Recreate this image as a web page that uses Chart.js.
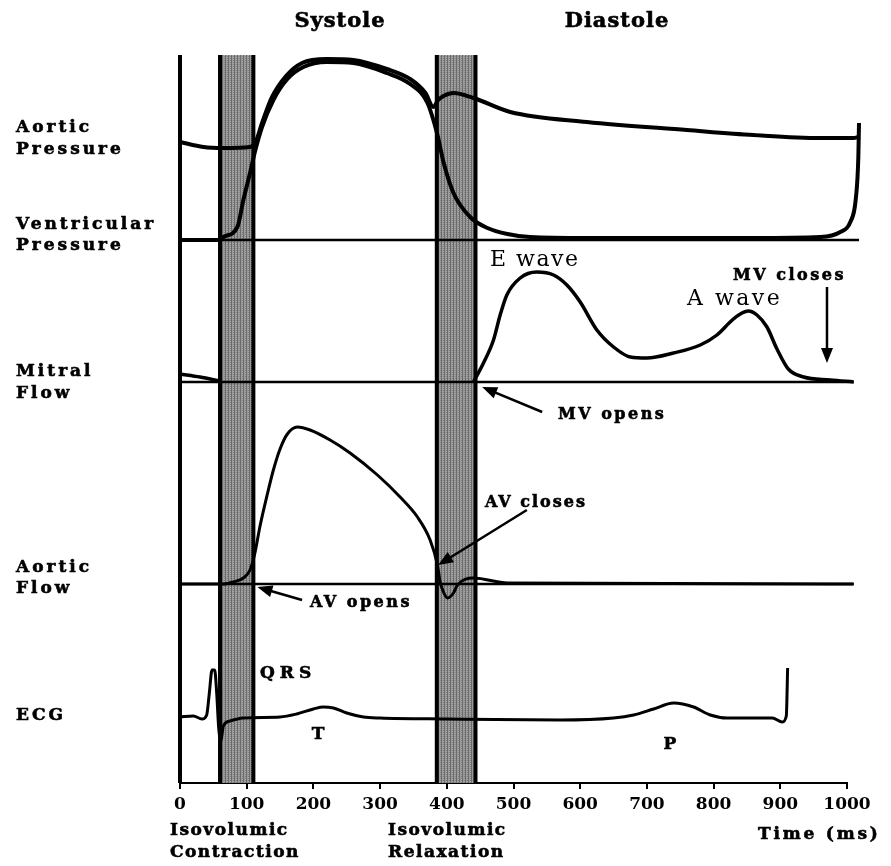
<!DOCTYPE html>
<html>
<head>
<meta charset="utf-8">
<title>Wiggers diagram</title>
<script src="https://cdn.jsdelivr.net/npm/chart.js@4.4.1/dist/chart.umd.min.js"></script>
<style>
  body { margin: 0; background: #fff; }
  canvas { display: block; }
</style>
</head>
<body>
<canvas id="wiggers" width="891" height="866"></canvas>
<script>
// one cardiac cycle, time in ms; each trace is measured from its own baseline
var aoPressT = [0, 35, 65, 105, 114, 123, 138, 159, 183, 220, 260, 310, 345, 368, 380, 387, 395, 410, 440, 495, 610, 760, 860, 960, 1010, 1017];
var aoPressV = [98, 93, 92, 93, 99, 117, 143, 164, 177, 181, 180, 171, 161, 147, 133, 140, 144, 147, 142, 128, 118, 110, 105, 102, 102, 103];

var lvPressT = [0, 60, 65, 86, 95, 105, 113, 123, 140, 161, 185, 220, 260, 310, 345, 371, 386, 395, 410, 435, 461, 491, 525, 610, 860, 960, 990, 1005, 1013, 1017, 1018];
var lvPressV = [0, 0, 3, 13, 40, 67, 90, 113, 140, 161, 173, 178, 177, 167, 156, 137, 105, 78, 47, 23, 12, 6, 3, 2, 2, 3, 8, 18, 40, 83, 117];

// null leaves the stretch where only the baseline shows
var mitralT = [0, 30, 60, 250, 440, 455, 470, 480, 490, 510, 535, 560, 580, 600, 625, 650, 675, 700, 740, 780, 805, 828, 840, 852, 865, 880, 895, 912, 935, 975, 1010];
var mitralV = [8, 5, 1, null, 0, 19, 42, 67, 87, 104, 110, 107, 97, 80, 52, 35, 25, 24, 29, 37, 47, 62, 68, 71, 67, 55, 33, 13, 5, 2, 0];

var aoFlowT = [0, 65, 80, 95, 105, 112, 120, 131, 140, 150, 161, 176, 195, 225, 255, 296, 330, 356, 375, 386, 390, 395, 401, 410, 416, 440, 491, 1010];
var aoFlowV = [0, 0, 2, 6, 14, 30, 58, 90, 114, 135, 150, 157, 154, 144, 131, 109, 87, 67, 44, 19, 2, -8, -14, -9, -1, 6, 1, 0];

var ecgT = [0, 20, 33, 40, 44, 48, 52, 55, 58, 61, 65, 75, 95, 150, 175, 200, 215, 230, 250, 275, 300, 400, 570, 650, 680, 710, 740, 770, 795, 820, 888, 903, 909, 911];
var ecgV = [1, 2, -1, 3, 25, 48, 48, 25, -10, -24, -8, -3, 0, 1, 4, 9, 11, 10, 5, 1, 0, -1, -2, 0, 3, 9, 15, 11, 3, 0, 0, -4, 2, 50];

// isovolumic contraction / relaxation windows (ms)
var isoStart = [60, 385];
var isoEnd = [110, 443];

// where each baseline line stops (ms): pressure, mitral, aortic flow
var baseEnd = [1018, 1010, 1010];

// vertical placement of the traces
var LANE = { press: 543, mitral: 401, flow: 199, ecg: 65 };
var Y_TOP = 728;

// arrows: [from ms, from offset, to ms, to offset, lane]
var arrows = [
  [543, -30, 453, -5, 'mitral'],   // MV opens
  [970, 95, 970, 19, 'mitral'],    // MV closes
  [183, -16, 116, -3, 'flow'],     // AV opens
  [520, 74, 387, 19, 'flow']       // AV closes
];

function toPoints(t, v, base) {
  return t.map(function (ms, i) { return { x: ms, y: v[i] === null ? null : base + v[i] }; });
}

function trace(t, v, base, w) {
  return {
    data: toPoints(t, v, base),
    borderColor: '#000',
    borderWidth: w,
    cubicInterpolationMode: 'monotone',
    pointRadius: 0,
    fill: false,
    spanGaps: false,
    clip: false
  };
}

function baseline(base, end) {
  return {
    data: [{ x: 0, y: base }, { x: end, y: base }],
    borderColor: '#000',
    borderWidth: 2.5,
    pointRadius: 0,
    fill: false,
    clip: false
  };
}

// fine vertical hatching for the shaded windows
function hatch(ctx) {
  var c = document.createElement('canvas');
  c.width = 3; c.height = 2;
  var p = c.getContext('2d');
  p.fillStyle = '#6a6a6a'; p.fillRect(0, 0, 1, 2);
  p.fillStyle = '#9a9a9a'; p.fillRect(1, 0, 1, 2);
  p.fillStyle = '#7e7e7e'; p.fillRect(2, 0, 1, 1);
  p.fillStyle = '#aaaaaa'; p.fillRect(2, 1, 1, 1);
  return ctx.createPattern(c, 'repeat');
}

function drawArrow(ctx, x0, y0, x1, y1) {
  var a = Math.atan2(y1 - y0, x1 - x0), len = 15, w = 6;
  var cx = Math.cos(a), sy = Math.sin(a);
  ctx.beginPath();
  ctx.moveTo(x0, y0);
  ctx.lineTo(x1 - len * 0.7 * cx, y1 - len * 0.7 * sy);
  ctx.stroke();
  ctx.beginPath();
  ctx.moveTo(x1, y1);
  ctx.lineTo(x1 - len * cx + w * sy, y1 - len * sy - w * cx);
  ctx.lineTo(x1 - len * cx - w * sy, y1 - len * sy + w * cx);
  ctx.closePath();
  ctx.fill();
}

var SERIF = '"DejaVu Serif", serif';
var LBL = 'bold 17px ' + SERIF;
// [text, x, y, font, align, spacing]
var labels = [
  ['Systole', 340, 22, 'bold 21px ' + SERIF, 'center', 1],
  ['Diastole', 617, 22, 'bold 21px ' + SERIF, 'center', 1],
  ['Aortic', 16, 128, LBL, 'left', 3],
  ['Pressure', 16, 150, LBL, 'left', 3],
  ['Ventricular', 16, 225, LBL, 'left', 3],
  ['Pressure', 16, 246, LBL, 'left', 3],
  ['Mitral', 16, 372, LBL, 'left', 3],
  ['Flow', 16, 394, LBL, 'left', 3],
  ['Aortic', 16, 568, LBL, 'left', 3],
  ['Flow', 16, 589, LBL, 'left', 3],
  ['ECG', 16, 716, LBL, 'left', 3],
  ['E wave', 490, 260, '22px ' + SERIF, 'left', 1.5],
  ['A wave', 687, 299, '22px ' + SERIF, 'left', 2.5],
  ['MV closes', 733, 276, 'bold 16px ' + SERIF, 'left', 2.5],
  ['MV opens', 558, 415, 'bold 16px ' + SERIF, 'left', 2.5],
  ['AV closes', 485, 503, 'bold 16px ' + SERIF, 'left', 2],
  ['AV opens', 310, 603, 'bold 16px ' + SERIF, 'left', 2.5],
  ['QRS', 260, 674, 'bold 17px ' + SERIF, 'left', 5],
  ['T', 318, 735, 'bold 17px ' + SERIF, 'center', 0],
  ['P', 670, 745, 'bold 17px ' + SERIF, 'center', 0],
  ['Isovolumic', 170, 831, LBL, 'left', 1.5],
  ['Contraction', 170, 853, LBL, 'left', 1.5],
  ['Isovolumic', 388, 831, LBL, 'left', 1.5],
  ['Relaxation', 388, 853, LBL, 'left', 1.5],
  ['Time (ms)', 758, 835, LBL, 'left', 2.8]
];

var decor = {
  id: 'decor',
  beforeDatasetsDraw: function (chart) {
    var ctx = chart.ctx, a = chart.chartArea, x = chart.scales.x;
    ctx.save();
    var pat = hatch(ctx);
    isoStart.forEach(function (s, i) {
      var x0 = x.getPixelForValue(s), x1 = x.getPixelForValue(isoEnd[i]);
      ctx.fillStyle = pat;
      ctx.fillRect(x0, a.top, x1 - x0, a.bottom - a.top);
      ctx.fillStyle = '#000';
      ctx.fillRect(x0 - 2, a.top, 4, a.bottom - a.top);
      ctx.fillRect(x1 - 2, a.top, 4, a.bottom - a.top);
    });
    // left axis line
    ctx.fillStyle = '#000';
    ctx.fillRect(x.getPixelForValue(0) - 2, a.top, 4, a.bottom - a.top);
    ctx.restore();
  },
  afterDraw: function (chart) {
    var ctx = chart.ctx, x = chart.scales.x, y = chart.scales.y;
    ctx.save();
    ctx.strokeStyle = '#000';
    ctx.fillStyle = '#000';
    ctx.lineWidth = 2.5;
    arrows.forEach(function (r) {
      var base = LANE[r[4]];
      drawArrow(ctx, x.getPixelForValue(r[0]), y.getPixelForValue(base + r[1]),
        x.getPixelForValue(r[2]), y.getPixelForValue(base + r[3]));
    });
    ctx.textBaseline = 'middle';
    ctx.lineWidth = 0.6;
    labels.forEach(function (l) {
      ctx.font = l[3];
      ctx.textAlign = l[4];
      ctx.letterSpacing = l[5] + 'px';
      ctx.fillText(l[0], l[1], l[2]);
      // heavier strokes for the bold captions
      if (l[3].indexOf('bold') === 0) ctx.strokeText(l[0], l[1], l[2]);
    });
    ctx.restore();
  }
};

new Chart(document.getElementById('wiggers'), {
  type: 'line',
  data: {
    datasets: [
      baseline(LANE.press, baseEnd[0]),
      baseline(LANE.mitral, baseEnd[1]),
      baseline(LANE.flow, baseEnd[2]),
      trace(aoPressT, aoPressV, LANE.press, 4),
      trace(lvPressT, lvPressV, LANE.press, 4),
      trace(mitralT, mitralV, LANE.mitral, 3.5),
      trace(aoFlowT, aoFlowV, LANE.flow, 3),
      trace(ecgT, ecgV, LANE.ecg, 3)
    ]
  },
  options: {
    responsive: false,
    animation: false,
    events: [],
    layout: { padding: { left: 180, right: 44, top: 55, bottom: 0 } },
    plugins: { legend: { display: false }, tooltip: { enabled: false } },
    scales: {
      x: {
        type: 'linear',
        afterDataLimits: function (s) { s.min = 0; s.max = 1000; },
        afterFit: function (s) { s.height = 83; },
        ticks: {
          stepSize: 100,
          padding: 5,
          color: '#000',
          autoSkip: false,
          maxRotation: 0,
          font: { family: SERIF, size: 17, weight: 'bold' },
          callback: function (v) { return String(v); }
        },
        grid: { display: true, drawOnChartArea: false, drawTicks: true, tickLength: 6, color: '#000', lineWidth: 2 },
        border: { display: true, color: '#000', width: 2 }
      },
      y: { display: false, min: 0, max: Y_TOP }
    }
  },
  plugins: [decor]
});
</script>
</body>
</html>
